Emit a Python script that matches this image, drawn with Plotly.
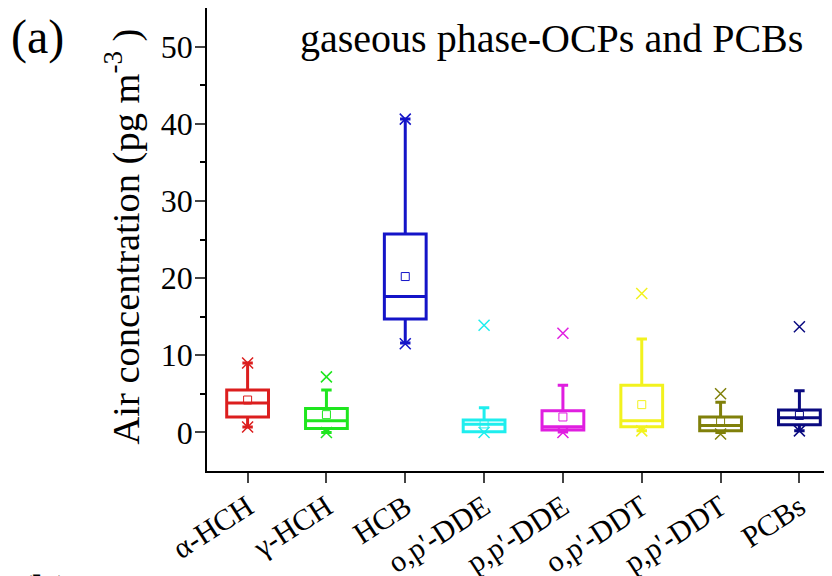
import plotly.graph_objects as go

categories = ["α-HCH", "γ-HCH", "HCB", "o,p'-DDE", "p,p'-DDE", "o,p'-DDT", "p,p'-DDT", "PCBs"]
q1 = [2.0, 0.5, 14.7, 0.1, 0.3, 0.75, 0.2, 1.0]
median = [3.8, 1.5, 17.6, 1.05, 0.75, 1.5, 0.9, 1.9]
q3 = [5.5, 3.1, 25.7, 1.6, 2.8, 6.1, 2.0, 2.9]
lower_fence = [0.7, 0.0, 11.6, 0.1, 0.05, 0.2, 0.0, 0.2]
upper_fence = [9.0, 5.5, 40.6, 3.2, 6.1, 12.1, 3.9, 5.4]
means = [4.2, 2.3, 20.2, 1.1, 2.0, 3.6, 1.4, 2.2]
x_top = [9.0, 7.2, 40.6, 13.9, 12.85, 18.0, 5.0, 13.7]
x_bottom = [0.7, 0.0, 11.5, 0.0, 0.0, 0.2, -0.2, 0.2]
colors = ["#DC1E1E", "#1EE61E", "#1414C8", "#1EEEEE", "#E01EE0", "#F2F21E", "#80800A", "#0A0A80"]

FONT = "Liberation Serif, Times New Roman, serif"

fig = go.Figure()
for i, cat in enumerate(categories):
    c = colors[i]
    fig.add_trace(go.Box(
        x=[i], q1=[q1[i]], median=[median[i]], q3=[q3[i]],
        lowerfence=[lower_fence[i]], upperfence=[upper_fence[i]],
        width=0.53, whiskerwidth=0.25, boxpoints=False,
        line=dict(color=c, width=3), fillcolor="rgba(0,0,0,0)",
        showlegend=False, hoverinfo="skip"))
    fig.add_trace(go.Scatter(
        x=[i], y=[means[i]], mode="markers",
        marker=dict(symbol="square-open", size=8, color=c, line=dict(width=1, color=c)),
        showlegend=False, hoverinfo="skip"))
    fig.add_trace(go.Scatter(
        x=[i, i], y=[x_top[i], x_bottom[i]], mode="markers",
        marker=dict(symbol="x-thin-open", size=11, color=c, line=dict(width=1.5, color=c)),
        showlegend=False, hoverinfo="skip"))

# page body has an 8px margin, so the figure is offset by (8, 8)
fig.update_layout(
    width=824, height=568,
    margin=dict(l=199, r=5, t=0, b=105),
    paper_bgcolor="white", plot_bgcolor="white",
    font=dict(family=FONT, color="black", size=32),
    xaxis=dict(range=[-0.515, 7.35], tickmode="array", tickvals=list(range(len(categories))),
               ticktext=categories, tickangle=-33, ticks="outside", ticklen=10, tickwidth=1.5,
               showline=True, linecolor="black", linewidth=1.5, showgrid=False, zeroline=False,
               automargin=False, ticklabelstandoff=-5,
               tickfont=dict(family=FONT, size=30, color="black")),
    yaxis=dict(range=[-5, 55], tickvals=[0, 10, 20, 30, 40, 50], ticks="outside", ticklen=10,
               tickwidth=1.5, showline=True, linecolor="black", linewidth=1.5, showgrid=False,
               zeroline=False, automargin=False, ticklabelstandoff=-4,
               tickfont=dict(family=FONT, size=32, color="black"),
               minor=dict(tickvals=[5, 15, 25, 35, 45], ticks="outside", ticklen=5, tickwidth=1.5,
                          tickcolor="black", showgrid=False)),
    annotations=[
        dict(text="gaseous phase-OCPs and PCBs", xref="paper", yref="paper", x=0.556, y=0.935,
             xanchor="center", yanchor="middle", showarrow=False,
             font=dict(family=FONT, size=40, color="black")),
        dict(text="(a)", xref="paper", yref="paper", x=-0.274, y=0.938,
             xanchor="center", yanchor="middle", showarrow=False,
             font=dict(family=FONT, size=48, color="black")),
        dict(text="(b)", xref="paper", yref="paper", x=-0.262, y=-0.2005,
             xanchor="center", yanchor="top", showarrow=False,
             font=dict(family=FONT, size=48, color="black")),
        dict(text="Air concentration (pg m<sup>-3</sup> )", xref="paper", yref="paper",
             x=-0.1355, y=0.5065, xanchor="center", yanchor="middle", textangle=-90,
             showarrow=False, font=dict(family=FONT, size=38.5, color="black")),
    ],
)

fig.write_html("out.html")
